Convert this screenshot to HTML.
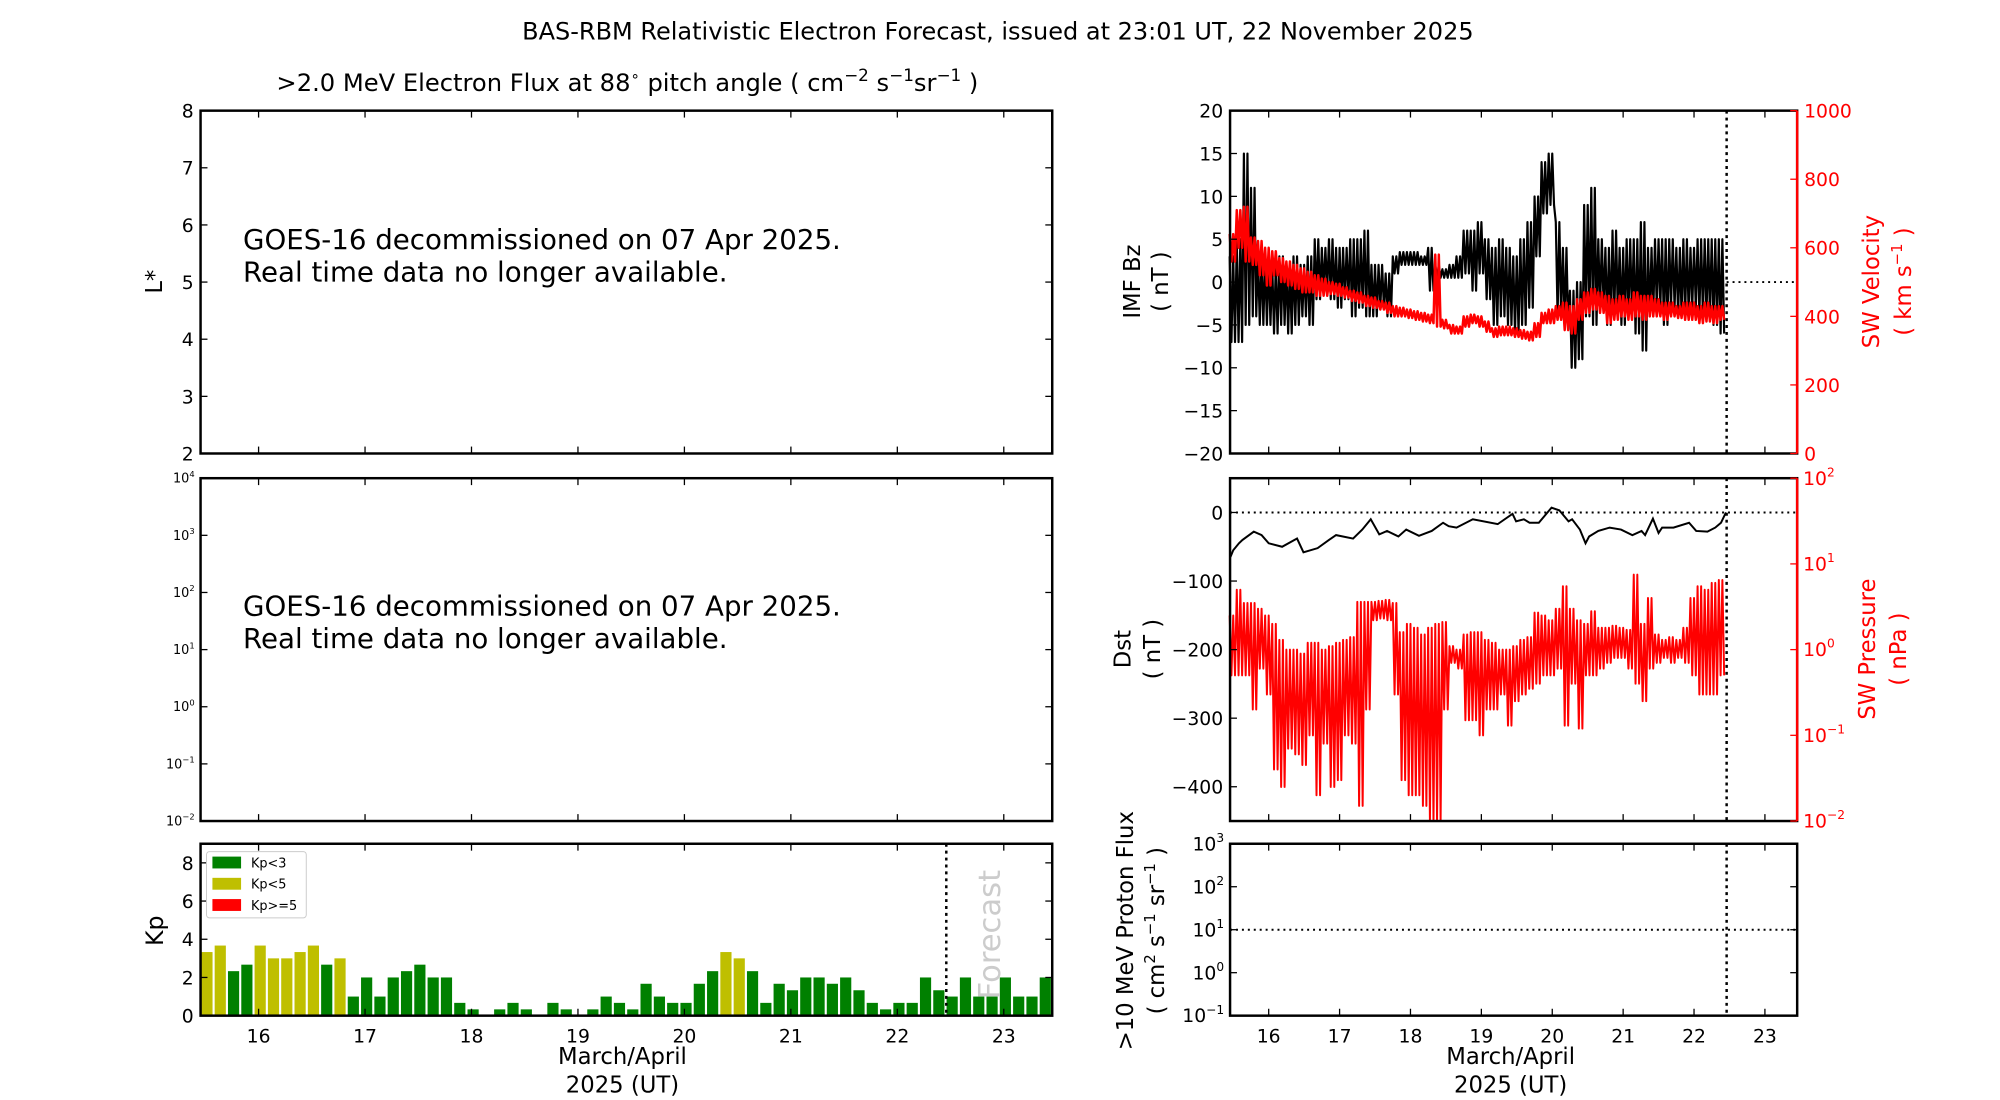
<!DOCTYPE html>
<html><head><meta charset="utf-8"><style>
html,body{margin:0;padding:0;background:#fff;}
svg{display:block;font-family:"DejaVu Sans","Liberation Sans",sans-serif;}
.t{font-size:19px;}
</style></head><body>
<svg id="fig" width="2000" height="1100" viewBox="0 0 2000 1100" xmlns="http://www.w3.org/2000/svg">
<g transform="scale(0.988)">
<text x="1010" y="40" text-anchor="middle" font-size="24.3">BAS-RBM Relativistic Electron Forecast, issued at 23:01 UT, 22 November 2025</text>
<text x="635" y="92" text-anchor="middle" font-size="24.5">&gt;2.0 MeV Electron Flux at 88<tspan dy="-10" font-size="15">∘</tspan><tspan dy="10"> pitch angle ( cm</tspan><tspan dy="-10" font-size="17">−2</tspan><tspan dy="10"> s</tspan><tspan dy="-10" font-size="17">−1</tspan><tspan dy="10">sr</tspan><tspan dy="-10" font-size="17">−1</tspan><tspan dy="10"> )</tspan></text>
<g id="g"></g>
</g>
</svg>
<script>
// ---- data ----
const kpValues=[3.33,3.67,2.33,2.67,3.67,3,3,3.33,3.67,2.67,3,1,2,1,2,2.33,2.67,2,2,0.67,0.33,0,0.33,0.67,0.33,0,0.67,0.33,0,0.33,1,0.67,0.33,1.67,1,0.67,0.67,1.67,2.33,3.33,3,2.33,0.67,1.67,1.33,2,2,1.67,2,1.33,0.67,0.33,0.67,0.67,2,1.33,1,2,1,1,2,1,1,2];
const binDays=[15.5,15.6,15.7,15.8,15.9,16.0,16.1,16.2,16.3,16.4,16.5,16.6,16.7,16.8,16.9,17.0,17.1,17.2,17.3,17.4,17.5,17.6,17.7,17.8,17.9,18.0,18.1,18.2,18.3,18.4,18.5,18.6,18.7,18.8,18.9,19.0,19.1,19.2,19.3,19.4,19.5,19.6,19.7,19.8,19.9,20.0,20.1,20.2,20.3,20.4,20.5,20.6,20.7,20.8,20.9,21.0,21.1,21.2,21.3,21.4,21.5,21.6,21.7,21.8,21.9,22.0,22.1,22.2,22.3,22.4];
const bzLo=[-7,-7,-5,-4,-5,-5,-6,-5,-6,-5,-4,-5,-2,-1,-2,-3,-2,-4,-3,-4,-4,-3,-4,1,2,2,2,2,-1,0.5,0.5,0.5,0.5,1,-1,1,-2,-5,-4,-5,-6,-5,-3,3,8,9,-4,-5,-10,-9,-4,-5,-3,-5,-4,-5,-4,-6,-8,-4,-3,-5,-3,-4,-4,-3,-4,-4,-5,-6];
const bzHi=[3,5,15,11,3,3,2,3,2,3,2,3,5,4,5,4,4,5,5,6,2,2,1,3,3.5,3.5,3.5,3,4,2,1.5,2,3,6,6,7,5,4,5,4,3,5,7,10,14,15,7,4,-1,0,9,11,5,4,6,4,5,5,7,4,5,5,5,4,5,4,5,5,5,5];
const vLo=[560,600,560,550,520,490,520,500,490,480,470,470,460,460,465,460,455,445,440,430,425,420,410,400,400,395,390,385,380,370,365,350,350,370,380,370,355,340,345,345,340,335,330,340,380,380,390,360,350,390,410,420,410,380,390,400,390,400,390,400,400,390,400,395,390,390,380,385,380,390];
const vHi=[640,710,720,630,620,600,590,570,560,550,540,530,520,510,500,495,485,475,470,460,455,445,440,430,425,420,415,410,405,580,390,375,370,400,405,400,385,365,370,370,365,360,355,380,410,420,430,440,430,450,470,480,470,460,450,460,450,470,460,460,450,440,440,430,440,440,430,440,430,430];
const pLo=[0.5,0.5,0.5,0.2,0.6,0.3,0.04,0.025,0.07,0.06,0.045,0.1,0.02,0.08,0.025,0.03,0.1,0.08,0.015,0.2,2.2,2.3,2.2,0.3,0.03,0.02,0.02,0.015,0.01,0.01,0.2,0.7,0.6,0.15,0.15,0.1,0.2,0.2,0.3,0.13,0.25,0.3,0.35,0.4,0.5,0.5,0.6,0.13,0.4,0.12,0.5,0.5,0.6,0.7,0.8,0.8,0.6,0.4,0.25,0.6,0.7,0.8,0.7,0.8,0.7,0.5,0.3,0.3,0.3,0.5];
const pHi=[2.5,5,3.5,3.5,3,2.5,2,1.3,1,1,0.9,1.2,1.2,1,1.1,1.2,1.3,1.4,3.6,3.6,3.6,3.7,3.8,3.5,1.6,2,1.8,1.5,1.8,2,2.1,1.1,1,1.5,1.6,1.6,1.3,1.2,1,1,1.1,1.3,1.4,2.7,2.5,2.2,3,5.5,3,2.2,2,2.8,1.8,1.8,1.9,1.8,1.7,7.5,2,4,1.5,1.3,1.4,1.3,1.8,4,5.5,5,6,6.5];
const dstDays=[15.46,15.5,15.58,15.63,15.79,15.9,16.0,16.19,16.4,16.49,16.69,16.85,16.95,17.19,17.32,17.44,17.56,17.67,17.83,17.94,18.12,18.3,18.46,18.54,18.65,18.88,19.23,19.44,19.49,19.6,19.68,19.81,19.99,20.1,20.23,20.28,20.39,20.47,20.52,20.65,20.81,20.97,21.13,21.26,21.31,21.42,21.5,21.55,21.71,21.93,22.03,22.19,22.3,22.38,22.45];
const dstValues=[-65,-55,-45,-40,-28,-33,-45,-50,-38,-58,-52,-40,-33,-38,-25,-10,-32,-27,-35,-25,-34,-27,-15,-20,-22,-10,-17,-2,-13,-10,-15,-15,7,3,-13,-10,-25,-45,-35,-27,-22,-25,-33,-27,-33,-9,-30,-22,-22,-15,-27,-28,-22,-15,0];
const dayTicks=[16,17,18,19,20,21,22,23];
const nowDay=22.46;
// ---- layout ----
const X0=15.455,X1=23.455;
const L={x0:203,x1:1065},R={x0:1245,x1:1819};
const P1={y0:112,y1:459},P2={y0:484,y1:831},P3={y0:854,y1:1028};
const NS='http://www.w3.org/2000/svg';
const G=document.getElementById('g');
function el(tag,attrs,parent){const e=document.createElementNS(NS,tag);for(const k in attrs)e.setAttribute(k,attrs[k]);(parent||G).appendChild(e);return e;}
function xs(c){return d=>c.x0+(d-X0)/(X1-X0)*(c.x1-c.x0);}
function lin(p,a,b){return v=>p.y1-(v-a)/(b-a)*(p.y1-p.y0);}
function logs(p,a,b){return v=>p.y1-(Math.log10(v)-a)/(b-a)*(p.y1-p.y0);}
function frame(c,p,name,rc){
  const f=el('rect',{x:c.x0,y:p.y0,width:c.x1-c.x0,height:p.y1-p.y0,fill:'none',stroke:'#000','stroke-width':2.5});
  
  if(rc){el('line',{x1:c.x1,y1:p.y0,x2:c.x1,y2:p.y1,stroke:rc,'stroke-width':2.5});}
}
function xticks(c,p,labels){
  const x=xs(c);
  dayTicks.forEach(d=>{const px=x(d);
    el('line',{x1:px,y1:p.y1,x2:px,y2:p.y1-7,stroke:'#000','stroke-width':1.3});
    el('line',{x1:px,y1:p.y0,x2:px,y2:p.y0+7,stroke:'#000','stroke-width':1.3});
    if(labels){const t=el('text',{x:px,y:p.y1+27,'text-anchor':'middle',class:'t'});t.textContent=d;
      }
  });
}
function yticksLin(c,p,vals,f,side,color,labels){
  vals.forEach(v=>{const py=f(v);
    const xa=side==='l'?c.x0:c.x1, dir=side==='l'?1:-1;
    el('line',{x1:xa,y1:py,x2:xa+dir*7,y2:py,stroke:color,'stroke-width':1.3});
    if(labels){const t=el('text',{x:side==='l'?xa-7:xa+7,y:py+7,'text-anchor':side==='l'?'end':'start',class:'t',fill:color});
      t.textContent=String(v).replace('-','−');
      }
  });
}
function yticksLog(c,p,exps,f,side,color,fs,both){
  exps.forEach(e=>{const py=f(Math.pow(10,e));
    const xa=side==='l'?c.x0:c.x1, dir=side==='l'?1:-1;
    el('line',{x1:xa,y1:py,x2:xa+dir*7,y2:py,stroke:color,'stroke-width':1.3});
    if(both)el('line',{x1:c.x1,y1:py,x2:c.x1-7,y2:py,stroke:color,'stroke-width':1.3});
    const t=el('text',{x:side==='l'?xa-6:xa+6,y:py+fs*0.35,'text-anchor':side==='l'?'end':'start','font-size':fs,fill:color});
    
    const a=el('tspan',{},t);a.textContent='10';
    const b=el('tspan',{dy:-fs*0.45,'font-size':fs*0.65},t);b.textContent=String(e).replace('-','−');
  });
}
function label(x,y,txt,opts,name){const t=el('text',Object.assign({x:x,y:y,'text-anchor':'middle','font-size':23,transform:'rotate(-90 '+x+' '+y+')'},opts||{}));
  t.innerHTML=txt;return t;}
function band(xf,yf,lo,hi,color,w,name){
  let pts=[];binDays.forEach((d,i)=>{
    pts.push([xf(d-0.05),yf(hi[i])],[xf(d-0.025),yf(lo[i])],[xf(d),yf(hi[i])],[xf(d+0.025),yf(lo[i])]);});
  const pl=el('polyline',{points:pts.map(p=>p[0].toFixed(1)+','+p[1].toFixed(1)).join(' '),fill:'none',stroke:color,'stroke-width':w,'stroke-linejoin':'round'});
  
}
// ---- Left panel 1: L* ----
(function(){const f=lin(P1,2,8);frame(L,P1,'lstar-panel');xticks(L,P1,false);
  yticksLin(L,P1,[2,3,4,5,6,7,8],f,'l','#000',true);yticksLin(L,P1,[2,3,4,5,6,7,8],f,'r','#000',false);
  label(164,285,'L*',{},'lstar-axis-title');
  const t=el('text',{x:246,y:252,'font-size':28});
  t.innerHTML='<tspan x="246">GOES-16 decommissioned on 07 Apr 2025.</tspan><tspan x="246" dy="33">Real time data no longer available.</tspan>';
})();
// ---- Left panel 2: flux ----
(function(){const f=logs(P2,-2,4);frame(L,P2,'flux-panel');xticks(L,P2,false);
  yticksLog(L,P2,[-2,-1,0,1,2,3,4],f,'l','#000',13,true);
  const t=el('text',{x:246,y:623,'font-size':28});
  t.innerHTML='<tspan x="246">GOES-16 decommissioned on 07 Apr 2025.</tspan><tspan x="246" dy="33">Real time data no longer available.</tspan>';
})();
// ---- Kp panel ----
(function(){const x=xs(L),f=lin(P3,0,9);
  const bw=(X1-X0)/kpValues.length;
  kpValues.forEach((v,i)=>{const d0=X0+i*bw+bw*0.06,d1=X0+(i+1)*bw-bw*0.1;
    const r=el('rect',{x:x(d0),y:f(v),width:x(d1)-x(d0),height:P3.y1-f(v),fill:v>=5?'#ff0000':(v>=3?'#bfbf00':'#008000')});
    });
  el('line',{x1:x(nowDay),y1:P3.y0,x2:x(nowDay),y2:P3.y1,stroke:'#000','stroke-width':2.5,'stroke-dasharray':'3,4'});
  frame(L,P3,'kp-panel');xticks(L,P3,true);
  yticksLin(L,P3,[0,2,4,6,8],f,'l','#000',true);yticksLin(L,P3,[0,2,4,6,8],f,'r','#000',false);
  label(165,942,'Kp',{'font-size':24},'kp-axis-title');
  const ft=el('text',{x:1012,y:946,'text-anchor':'middle','font-size':31,fill:'#cccccc',transform:'rotate(-90 1012 946)'});ft.textContent='Forecast';
  
  const lg=el('g',{});
  el('rect',{x:209,y:862,width:101,height:67,fill:'#fff',stroke:'#ccc','stroke-width':1,rx:3},lg);
  [['Kp<3','#008000'],['Kp<5','#bfbf00'],['Kp>=5','#ff0000']].forEach((e,i)=>{const yy=873+i*21.5;
    el('rect',{x:215,y:yy-6,width:29,height:12,fill:e[1]},lg);
    const t=el('text',{x:254,y:yy+5,'font-size':13},lg);t.textContent=e[0];
    });
})();
const lt=el('text',{x:630,y:1077,'text-anchor':'middle','font-size':23});lt.innerHTML='<tspan x="630">March/April</tspan><tspan x="630" dy="29">2025 (UT)</tspan>';

// ---- Right panel 1: Bz / velocity ----
(function(){const x=xs(R),fb=lin(P1,-20,20),fv=lin(P1,0,1000);
  band(x,fb,bzLo,bzHi,'#000',2.2,'imf-bz-line');
  band(x,fv,vLo,vHi,'#ff0000',2.5,'sw-velocity-line');
  el('line',{x1:x(nowDay),y1:fb(0),x2:R.x1,y2:fb(0),stroke:'#000','stroke-width':2,'stroke-dasharray':'2,4'});
  el('line',{x1:x(nowDay),y1:P1.y0,x2:x(nowDay),y2:P1.y1,stroke:'#000','stroke-width':2.5,'stroke-dasharray':'3,4'});
  frame(R,P1,'imf-panel','#ff0000');xticks(R,P1,false);
  yticksLin(R,P1,[-20,-15,-10,-5,0,5,10,15,20],fb,'l','#000',true);
  yticksLin(R,P1,[0,200,400,600,800,1000],fv,'r','#ff0000',true);
  label(1154,285,'IMF Bz',{},'imf-bz-axis-title');label(1182,285,'( nT )',{},'imf-bz-units');
  label(1902,285,'SW Velocity',{fill:'#ff0000'},'velocity-axis-title');
  label(1934,285,'( km s<tspan dy="-9" font-size="15">−1</tspan><tspan dy="9"> )</tspan>',{fill:'#ff0000'},'velocity-units');
})();
// ---- Right panel 2: Dst / pressure ----
(function(){const x=xs(R),fd=lin(P2,-450,50),fp=logs(P2,-2,2);
  band(x,fp,pLo,pHi,'#ff0000',2,'sw-pressure-line');
  const pl=el('polyline',{points:dstDays.map((d,i)=>x(d).toFixed(1)+','+fd(dstValues[i]).toFixed(1)).join(' '),fill:'none',stroke:'#000','stroke-width':2});
  
  el('line',{x1:R.x0,y1:fd(0),x2:R.x1,y2:fd(0),stroke:'#000','stroke-width':2,'stroke-dasharray':'2,4'});
  el('line',{x1:x(nowDay),y1:P2.y0,x2:x(nowDay),y2:P2.y1,stroke:'#000','stroke-width':2.5,'stroke-dasharray':'3,4'});
  frame(R,P2,'dst-panel','#ff0000');xticks(R,P2,false);
  yticksLin(R,P2,[-400,-300,-200,-100,0],fd,'l','#000',true);
  yticksLog(R,P2,[-2,-1,0,1,2],fp,'r','#ff0000',19,false);
  label(1144,657,'Dst',{},'dst-axis-title');label(1174,657,'( nT )',{},'dst-units');
  label(1898,657,'SW Pressure',{fill:'#ff0000'},'pressure-axis-title');label(1929,657,'( nPa )',{fill:'#ff0000'},'pressure-units');
})();
// ---- Right panel 3: proton ----
(function(){const x=xs(R),f=logs(P3,-1,3);
  el('line',{x1:R.x0,y1:f(10),x2:R.x1,y2:f(10),stroke:'#000','stroke-width':2,'stroke-dasharray':'2,4'});
  el('line',{x1:x(nowDay),y1:P3.y0,x2:x(nowDay),y2:P3.y1,stroke:'#000','stroke-width':2.5,'stroke-dasharray':'3,4'});
  frame(R,P3,'proton-panel');xticks(R,P3,true);
  yticksLog(R,P3,[-1,0,1,2,3],f,'l','#000',19,true);
  label(1147,942,'&gt;10 MeV Proton Flux',{},'proton-axis-title');
  label(1178,942,'( cm<tspan dy="-9" font-size="15">2</tspan><tspan dy="9"> s</tspan><tspan dy="-9" font-size="15">−1</tspan><tspan dy="9"> sr</tspan><tspan dy="-9" font-size="15">−1</tspan><tspan dy="9"> )</tspan>',{},'proton-units');
})();
const rt=el('text',{x:1529,y:1077,'text-anchor':'middle','font-size':23});rt.innerHTML='<tspan x="1529">March/April</tspan><tspan x="1529" dy="29">2025 (UT)</tspan>';

</script>
</body></html>
